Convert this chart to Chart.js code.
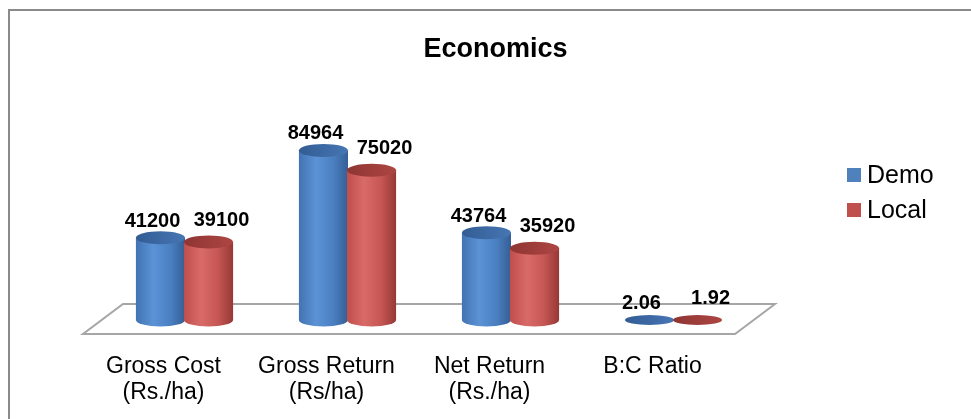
<!DOCTYPE html>
<html>
<head>
<meta charset="utf-8">
<script src="https://cdn.jsdelivr.net/npm/chart.js@4.4.1/dist/chart.umd.min.js"></script>
<style>
  html, body { margin: 0; padding: 0; background: #fff; }
  #wrap { width: 971px; height: 419px; }
</style>
</head>
<body>
<div id="wrap"><canvas id="econChart" width="971" height="419"></canvas></div>
<script>
const categories = [['Gross Cost', '(Rs./ha)'], ['Gross Return', '(Rs/ha)'], ['Net Return', '(Rs./ha)'], ['B:C Ratio']];
const seriesNames = ['Demo', 'Local'];
const demoValues = [41200, 84964, 43764, 2.06];
const localValues = [39100, 75020, 35920, 1.92];
const yMin = 0;
const yMax = 100000;

const FONT = "'Liberation Sans', Arial, sans-serif";

// colours for the cylinder faces, one entry per series
const shades = [
  { body: ['#4273b2', '#5b93d6', '#4a80c2', '#365e94'], top: ['#335c93', '#4676b4'], key: '#4f81bd', labelDx: -8, labelDy: -11 },
  { body: ['#c04f4c', '#d86a67', '#c55653', '#963835'], top: ['#8f3533', '#ad4643'], key: '#c0504d', labelDx: 13, labelDy: -16 }
];

function drawCylinder(ctx, x, top, base, w, shade) {
  const rx = w / 2, ry = 6.5;
  const left = x - rx, right = x + rx;
  if (base - top > 0.5) {
    const g = ctx.createLinearGradient(left, 0, right, 0);
    g.addColorStop(0, shade.body[0]);
    g.addColorStop(0.35, shade.body[1]);
    g.addColorStop(0.7, shade.body[2]);
    g.addColorStop(1, shade.body[3]);
    ctx.beginPath();
    ctx.moveTo(left, top);
    ctx.lineTo(left, base);
    ctx.ellipse(x, base, rx, ry, 0, Math.PI, 0, true);
    ctx.lineTo(right, top);
    ctx.closePath();
    ctx.fillStyle = g;
    ctx.fill();
  }
  const t = ctx.createLinearGradient(left, 0, right, 0);
  t.addColorStop(0, shade.top[0]);
  t.addColorStop(1, shade.top[1]);
  ctx.beginPath();
  ctx.ellipse(x, top, rx, base - top > 0.5 ? ry : 5, 0, 0, Math.PI * 2);
  ctx.fillStyle = t;
  ctx.fill();
}

const cylinderPlugin = {
  id: 'cylinders',
  beforeDraw(chart) {
    const ctx = chart.ctx;
    ctx.save();
    ctx.fillStyle = '#fff';
    ctx.fillRect(0, 0, chart.width, chart.height);
    ctx.strokeStyle = '#8a8a8a';
    ctx.lineWidth = 2;
    ctx.strokeRect(9, 10, 1000, 500);
    ctx.restore();
  },
  beforeDatasetsDraw(chart) {
    const ctx = chart.ctx;
    const area = chart.chartArea;
    const base = chart.scales.y.getPixelForValue(0);
    ctx.save();
    // floor
    ctx.beginPath();
    ctx.moveTo(area.left + 20, base - 16);
    ctx.lineTo(area.right + 20, base - 16);
    ctx.lineTo(area.right - 20, base + 14);
    ctx.lineTo(area.left - 20, base + 14);
    ctx.closePath();
    ctx.strokeStyle = '#a6a6a6';
    ctx.lineWidth = 2;
    ctx.stroke();

    const n = chart.data.labels.length;
    for (let j = 0; j < n; j++) {
      chart.data.datasets.forEach((ds, i) => {
        const bar = chart.getDatasetMeta(i).data[j];
        drawCylinder(ctx, bar.x, bar.y, bar.base, bar.width + 1, shades[i]);
      });
    }
    // value labels
    ctx.font = 'bold 20px ' + FONT;
    ctx.fillStyle = '#000';
    ctx.textAlign = 'center';
    ctx.textBaseline = 'alphabetic';
    chart.data.datasets.forEach((ds, i) => {
      chart.getDatasetMeta(i).data.forEach((bar, j) => {
        ctx.fillText(String(ds.data[j]), bar.x + shades[i].labelDx, bar.y + shades[i].labelDy);
      });
    });
    ctx.restore();
    return false;
  },
  afterDraw(chart) {
    const ctx = chart.ctx;
    ctx.save();
    ctx.font = '25px ' + FONT;
    ctx.textAlign = 'left';
    ctx.textBaseline = 'alphabetic';
    chart.data.datasets.forEach((ds, i) => {
      const y = 168 + i * 35;
      ctx.fillStyle = shades[i].key;
      ctx.fillRect(847, y, 14, 14);
      ctx.fillStyle = '#000';
      ctx.fillText(ds.label, 867, y + 15);
    });
    ctx.restore();
  }
};

new Chart(document.getElementById('econChart'), {
  type: 'bar',
  data: {
    labels: categories,
    datasets: [
      { label: seriesNames[0], data: demoValues, backgroundColor: shades[0].key },
      { label: seriesNames[1], data: localValues, backgroundColor: shades[1].key }
    ]
  },
  options: {
    responsive: false,
    animation: false,
    layout: { padding: { left: 20, right: 0, top: 0, bottom: 0 } },
    datasets: { bar: { barPercentage: 1, categoryPercentage: 0.59 } },
    plugins: {
      legend: { display: false },
      tooltip: { enabled: false },
      title: {
        display: true,
        text: 'Economics',
        color: '#000',
        font: { family: FONT, size: 27, weight: 'bold' },
        padding: { top: 33, bottom: 55 }
      }
    },
    scales: {
      x: {
        position: 'bottom',
        grid: { display: false, drawTicks: false },
        border: { display: false },
        ticks: {
          color: '#000',
          font: { family: FONT, size: 23, lineHeight: 1.13 },
          labelOffset: -21,
          padding: 34,
          maxRotation: 0,
          autoSkip: false
        },
        afterFit(s) { s.height = 99; }
      },
      y: {
        position: 'left',
        min: yMin,
        max: yMax,
        grid: { display: false },
        border: { display: false },
        ticks: { display: false },
        afterFit(s) { s.width = 83; }
      },
      yRight: {
        type: 'linear',
        position: 'right',
        grid: { display: false },
        border: { display: false },
        ticks: { display: false },
        afterFit(s) { s.width = 216; }
      }
    }
  },
  plugins: [cylinderPlugin]
});
</script>
</body>
</html>
